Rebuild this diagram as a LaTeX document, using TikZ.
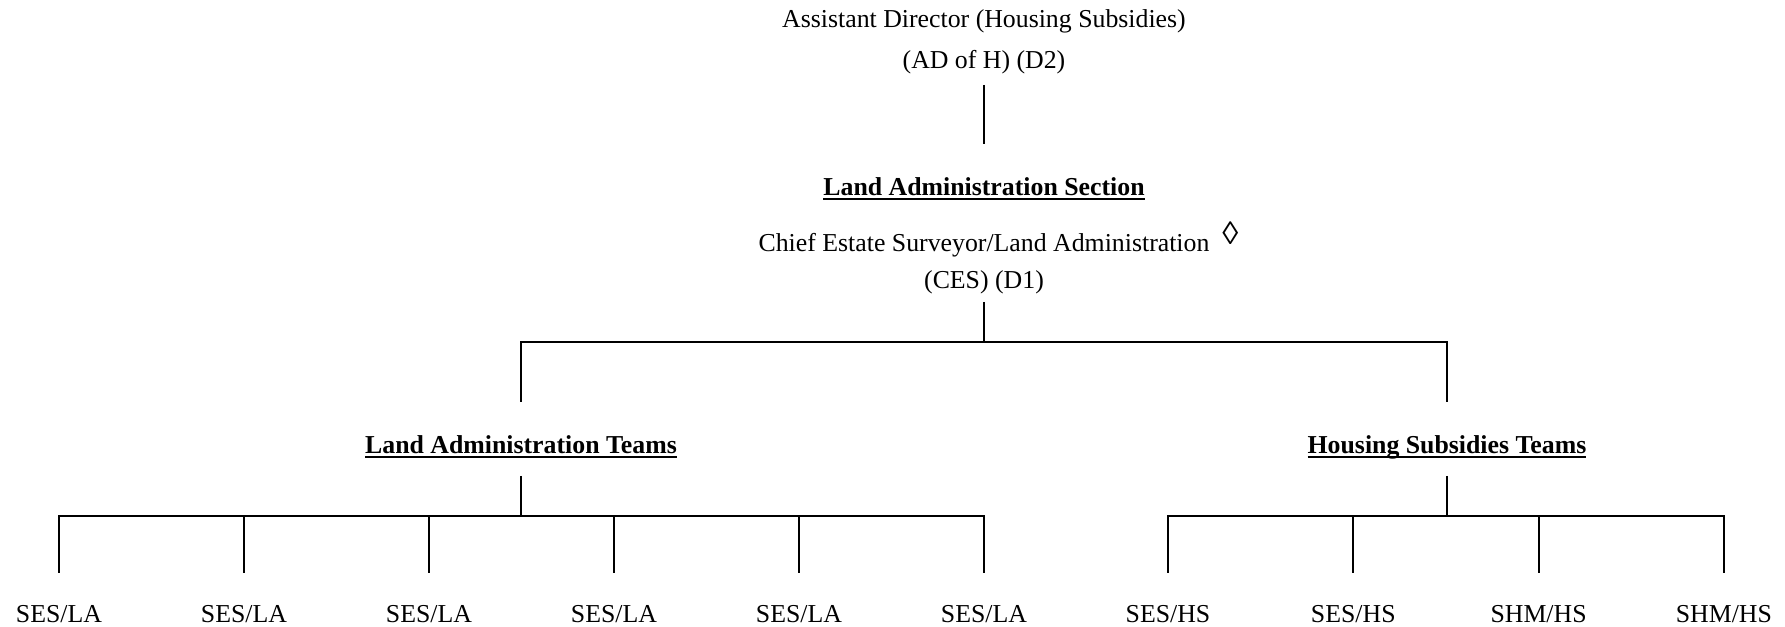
\documentclass[tikz,border=0pt]{standalone}
\usepackage{fontspec}
\setmainfont{Liberation Serif}
\usetikzlibrary{positioning,calc}
\newcommand\thickul[1]{\setbox0\hbox{#1}\rlap{\rule[-2pt]{\wd0}{0.9pt}}\box0}

\begin{document}
\begin{tikzpicture}[
   x=0.465pt, y=-0.465pt,
   txt/.style={inner sep=0pt, anchor=base, font=\fontsize{12}{14}\selectfont},
   head/.style={txt, font=\fontsize{12}{14}\selectfont\bfseries},
   link/.style={line width=1pt}]
  \useasboundingbox (0,0) rectangle (1785,627);
  % director and section
  \node[txt] (ad) at (984,28) {Assistant Director (Housing Subsidies)};
  \node[txt] (adcode) at (984,69) {(AD of H) (D2)};
  \node[head] (sec) at (984,196) {\thickul{Land Administration Section}};
  \node[txt] (ces) at (984,252) {Chief Estate Surveyor/Land Administration\rlap{\hspace{6pt}\raisebox{3.3pt}{\scalebox{1.25}{◊}}}};
  \node[txt] (cescode) at (984,289) {(CES) (D1)};
  % teams
  \node[head] (lateam) at (521,454) {\thickul{Land Administration Teams}};
  \node[head] (hsteam) at (1447,454) {\thickul{Housing Subsidies Teams}};
  \foreach \i in {1,...,6}
    \node[txt] (la\i) at ({59+185*(\i-1)},623) {SES/LA};
  \foreach \kind [count=\i] in {SES,SES,SHM,SHM}
    \node[txt] (hs\i) at ({1168+185.3*(\i-1)},623) {\kind/HS};
  % connectors
  \draw[link] ($(adcode.base)+(0,16)$) -- ($(sec.base)+(0,-52)$);
  \draw[link] ($(cescode.base)+(0,13)$) -- ++(0,40) coordinate (fork);
  \draw[link] ($(lateam.base)+(0,-52)$) |- (fork) -| ($(hsteam.base)+(0,-52)$);
  \draw[link] ($(lateam.base)+(0,22)$) -- ++(0,40) coordinate (lahub);
  \draw[link] ($(hsteam.base)+(0,22)$) -- ++(0,40) coordinate (hshub);
  \foreach \i in {1,...,6}
    \draw[link] ($(la\i.base)+(0,-50)$) |- (lahub);
  \foreach \i in {1,...,4}
    \draw[link] ($(hs\i.base)+(0,-50)$) |- (hshub);
\end{tikzpicture}
\end{document}
